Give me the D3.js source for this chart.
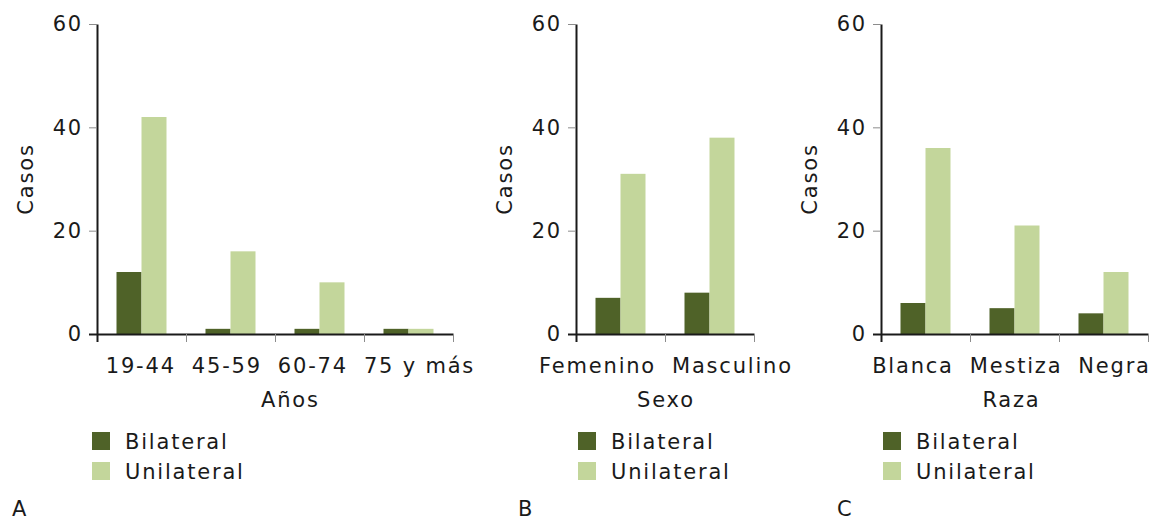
<!DOCTYPE html>
<html>
<head>
<meta charset="utf-8">
<script src="https://cdn.jsdelivr.net/npm/d3@7"></script>
<style>
  body { margin: 0; background: #fff; }
  svg text { font-family: "DejaVu Sans", Verdana, sans-serif; font-size: 21px; fill: #1a1a1a; letter-spacing: 1.8px; }
</style>
</head>
<body>
<svg id="chart" width="1162" height="520"></svg>
<script>
// Data
const series = ["Bilateral", "Unilateral"];
const yTicks = [0, 20, 40, 60];

const edadCats = ["19-44", "45-59", "60-74", "75 y más"];
const edadBilateral = [12, 1, 1, 1];
const edadUnilateral = [42, 16, 10, 1];

const sexoCats = ["Femenino", "Masculino"];
const sexoBilateral = [7, 8];
const sexoUnilateral = [31, 38];

const razaCats = ["Blanca", "Mestiza", "Negra"];
const razaBilateral = [6, 5, 4];
const razaUnilateral = [36, 21, 12];

const colors = ["#4f6228", "#c3d69b"];

// Layout of the three panels
const panels = [
    { cats: edadCats, vals: [edadBilateral, edadUnilateral], title: "Años", left: 97, legendX: 92, letter: "A", letterX: 12 },
    { cats: sexoCats, vals: [sexoBilateral, sexoUnilateral], title: "Sexo", left: 576, legendX: 578, letter: "B", letterX: 518 },
    { cats: razaCats, vals: [razaBilateral, razaUnilateral], title: "Raza", left: 881, legendX: 883, letter: "C", letterX: 837 }
];

const bandW = 89;
const y = d3.scaleLinear().domain([0, 60]).range([334, 24]);
const svg = d3.select("#chart");

panels.forEach(p => {
    const n = p.cats.length;
    const g = svg.append("g").attr("transform", `translate(${p.left},0)`);

    const x0 = d3.scaleBand().domain(p.cats).range([0, n * bandW]).padding(0);
    const x1 = d3.scaleBand().domain(series).range([0, x0.bandwidth()])
        .paddingInner(0).paddingOuter(0.78);

    // Bars
    p.cats.forEach((c, i) => {
        series.forEach((s, k) => {
            const v = p.vals[k][i];
            g.append("rect")
                .attr("x", x0(c) + x1(s))
                .attr("y", y(v))
                .attr("width", x1.bandwidth())
                .attr("height", y(0) - y(v))
                .attr("fill", colors[k]);
        });
    });

    // Y axis
    const ya = g.append("g")
        .call(d3.axisLeft(y).tickValues(yTicks).tickSize(8).tickSizeOuter(0).tickPadding(6));
    ya.select(".domain").attr("stroke", "#1a1a1a").attr("stroke-width", 2);
    ya.selectAll(".tick line").attr("stroke", d => d === 0 ? "#1a1a1a" : "#8c8c8c")
        .attr("stroke-width", d => d === 0 ? 2 : 1);
    ya.selectAll(".tick text").attr("font-size", null).attr("font-family", null).attr("fill", null);

    // X axis with boundary ticks
    const xb = d3.scaleLinear().domain([0, n]).range([0, n * bandW]);
    const xa = g.append("g").attr("transform", `translate(0,${y(0)})`)
        .call(d3.axisBottom(xb).tickValues(d3.range(n + 1)).tickSize(8).tickSizeOuter(0).tickFormat(""));
    xa.select(".domain").attr("stroke", "#1a1a1a").attr("stroke-width", 2);
    xa.selectAll(".tick line").attr("stroke", d => d === 0 ? "#1a1a1a" : "#8c8c8c")
        .attr("stroke-width", d => d === 0 ? 2 : 1);

    // Category labels
    const xl = g.append("g").attr("transform", `translate(0,${y(0)})`)
        .call(d3.axisBottom(x0).tickSize(0).tickPadding(24));
    xl.select(".domain").remove();
    const labels = xl.selectAll(".tick text").attr("font-size", null).attr("font-family", null).attr("fill", null);

    // push overlapping labels apart
    const items = [];
    labels.each(function(d) {
        items.push({ el: this, c: x0(d) + x0.bandwidth() / 2, w: this.getComputedTextLength(), dx: 0 });
    });
    const gap = 16;
    for (let it = 0; it < 50; it++) {
        for (let i = 0; i < items.length - 1; i++) {
            const a = items[i], b = items[i + 1];
            const over = (a.c + a.dx + a.w / 2 + gap) - (b.c + b.dx - b.w / 2);
            if (over > 0) { a.dx -= over / 2; b.dx += over / 2; }
        }
    }
    items.forEach(it => d3.select(it.el).attr("dx", it.dx));
    const minX = d3.min(items, it => it.c + it.dx - it.w / 2);
    const maxX = d3.max(items, it => it.c + it.dx + it.w / 2);

    // Axis titles
    g.append("text")
        .attr("x", (minX + maxX) / 2).attr("y", 407)
        .attr("text-anchor", "middle")
        .text(p.title);

    g.append("text")
        .attr("transform", `translate(-64,${(y(0) + y(60)) / 2}) rotate(-90)`)
        .attr("text-anchor", "middle")
        .text("Casos");

    // Legend
    series.forEach((s, k) => {
        const ly = 432 + k * 30;
        svg.append("rect")
            .attr("x", p.legendX).attr("y", ly)
            .attr("width", 18).attr("height", 18)
            .attr("fill", colors[k]);
        svg.append("text")
            .attr("x", p.legendX + 33).attr("y", ly + 17)
            .text(s);
    });

    // Panel letter
    svg.append("text")
        .attr("x", p.letterX).attr("y", 516)
        .text(p.letter);
});
</script>
</body>
</html>
